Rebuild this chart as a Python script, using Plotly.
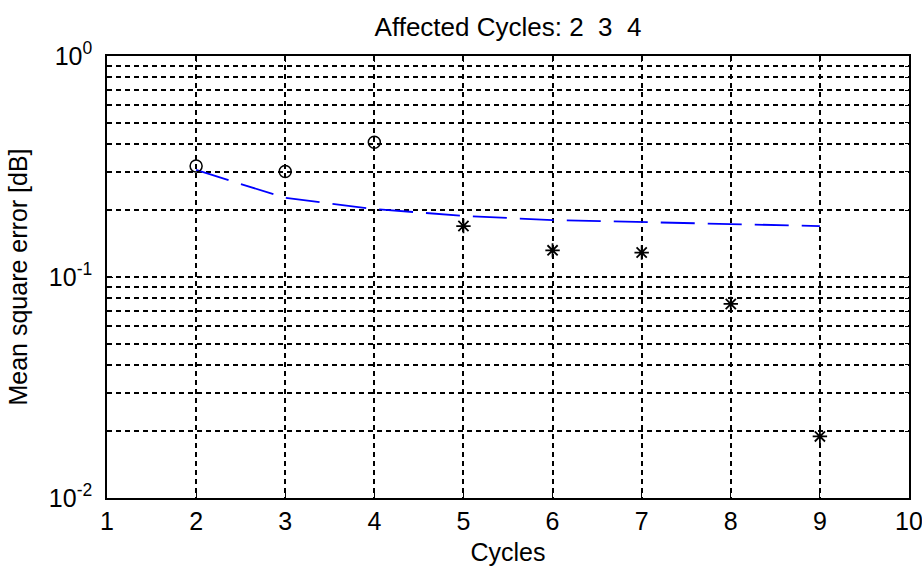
import plotly.graph_objects as go

# Data
circle_x = [2, 3, 4]
circle_y = [0.318, 0.300, 0.407]
star_x = [5, 6, 7, 8, 9]
star_y = [0.170, 0.132, 0.129, 0.0755, 0.019]
line_x = [2, 3, 4, 5, 6, 7, 8, 9]
line_y = [0.305, 0.228, 0.203, 0.189, 0.181, 0.177, 0.174, 0.170]
x_ticks = [1, 2, 3, 4, 5, 6, 7, 8, 9, 10]
y_tickvals = [0.01, 0.1, 1]
y_ticktext = ["10<sup>-2</sup>", "10<sup>-1</sup>", "10<sup>0</sup>"]
y_minor = [m * 10.0 ** e for e in (-2, -1) for m in range(2, 10)]

FONT = "Liberation Sans, Arial, sans-serif"
FS = 25

fig = go.Figure()
fig.add_trace(go.Scatter(
    x=line_x, y=line_y, mode="lines",
    line=dict(color="#0000ff", width=1.8, dash="34px,13px"),
    hoverinfo="skip", showlegend=False))
fig.add_trace(go.Scatter(
    x=circle_x, y=circle_y, mode="markers",
    marker=dict(symbol="circle-open", size=12, color="black", line=dict(width=1.5, color="black")),
    showlegend=False))
fig.add_trace(go.Scatter(
    x=star_x, y=star_y, mode="markers",
    marker=dict(symbol="asterisk-open", size=12, color="black", line=dict(width=1.8, color="black")),
    showlegend=False))

GRID = dict(showgrid=True, gridcolor="black", gridwidth=1.5, griddash="5px,4px")

fig.update_layout(
    width=922, height=566,
    margin=dict(l=107, r=13, t=56, b=68),
    paper_bgcolor="white", plot_bgcolor="white",
    font=dict(family=FONT, size=FS, color="black"),
    title=dict(text="Affected Cycles: 2  3  4", x=0.551, xanchor="center",
               y=0.952, yanchor="middle", font=dict(size=FS + 1, family=FONT)),
)
fig.update_xaxes(
    range=[1, 10], tickvals=x_ticks, ticktext=[str(v) for v in x_ticks],
    showline=True, linecolor="black", linewidth=1.6, mirror="allticks",
    ticks="inside", ticklen=6, tickcolor="black", tickwidth=1.3,
    ticklabeloverflow="allow",
    zeroline=False, automargin=False,
    title=dict(text="Cycles", font=dict(size=FS), standoff=12),
    **GRID,
)
fig.update_yaxes(
    type="log", range=[-2, 0], tickvals=y_tickvals, ticktext=y_ticktext,
    showline=True, linecolor="black", linewidth=1.6, mirror="allticks",
    ticks="inside", ticklen=6, tickcolor="black", tickwidth=1.3,
    ticklabelstandoff=8, ticklabeloverflow="allow",
    minor=dict(tickvals=y_minor, ticks="inside", ticklen=4, tickcolor="black",
               showgrid=True, gridcolor="black", gridwidth=1.5, griddash="5px,4px"),
    zeroline=False, automargin=False,
    title=dict(text="Mean square error [dB]", font=dict(size=FS), standoff=14),
    **GRID,
)

fig.write_html("out.html")
